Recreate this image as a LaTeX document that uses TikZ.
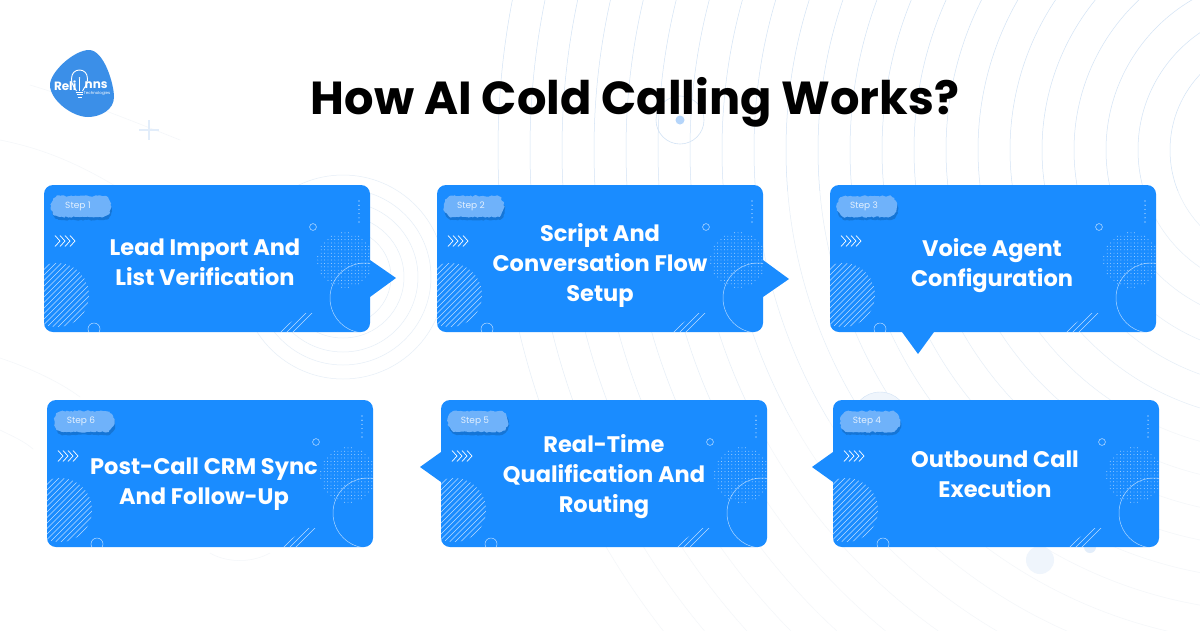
\documentclass[tikz,border=0pt]{standalone}
\usepackage{fontspec}
\setmainfont{Poppins}
\usetikzlibrary{decorations.pathmorphing,calc}
\definecolor{cardblue}{HTML}{1A8CFF}
\definecolor{blobblue}{HTML}{6FB2FA}
\definecolor{shadowblue}{HTML}{1470CC}
\definecolor{steptext}{HTML}{E3F0FE}
\definecolor{logoblue}{HTML}{3B8FE8}
\definecolor{arcA}{HTML}{D3E3F5}
\definecolor{arcB}{HTML}{E6EEF7}
\definecolor{arcC}{HTML}{F3F6F9}
\definecolor{paleA}{HTML}{EFF5FC}
\definecolor{paleB}{HTML}{E2EDFA}
\definecolor{dotblue}{HTML}{B5D5FA}
\tikzset{
  cardbox/.style={fill=cardblue,draw=none,rounded corners=9pt,inner sep=0pt,outer sep=0pt,minimum width=326pt,minimum height=147pt,anchor=north west},
  cardtext/.style={text=white,align=center,font=\fontsize{22.5}{30}\selectfont\bfseries,inner sep=0pt},
  steplabel/.style={text=steptext,font=\fontsize{9}{11}\selectfont,inner sep=0pt},
  deco/.style={draw=white,line width=.5pt},
  soft/.style={draw=white,draw opacity=.7,line width=.5pt},
  bgarc/.style={line width=.5pt}
}
\newcommand{\hatchdisc}[3]{% cx cy r
  \begin{scope}
    \clip (#1,#2) circle (#3pt);
    \foreach \k in {-49.5,-44,...,50}{
      \draw[soft] ({#1+\k-40},{#2+40}) -- ({#1+\k+40},{#2-40});
    }
  \end{scope}}
\newcommand{\stepcard}[8]{% name x y step text textx texty pointer
  \begin{scope}[shift={(#2,#3)}]
    \fill[cardblue] #8;
    \node[cardbox] (#1) at (0,0) {};
    \begin{scope}
      \clip[rounded corners=9pt] (0,0) rectangle (326,147);
      \hatchdisc{13}{110}{32}
      \begin{scope}
        \clip (233,147) -- (260,128) -- (269,128) -- (250,147) -- cycle;
        \foreach \k in {0,6,...,48}{
          \draw[soft] ({228+\k},150) -- ({228+\k+24},126);
        }
      \end{scope}
      \foreach \i in {-27.2,-23.8,...,27.3}{
        \foreach \j in {-27.2,-23.8,...,27.3}{
          \pgfmathparse{(\i*\i+\j*\j<=784)?1:0}
          \ifnum\pgfmathresult=1
            \fill[white,opacity=.75] ({301+\i},{75+\j}) circle (.45pt);
          \fi
        }
      }
      \draw[deco,draw opacity=.65] (321,113) circle (35pt);
      \draw[deco,draw opacity=.7] (50,144) circle (6pt);
    \end{scope}
    \draw[deco,draw opacity=.8] (269,42) circle (3.4pt);
    \foreach \k in {0,1,...,5}{
      \fill[white] (315,{16+4.2*\k}) circle (.55pt);
    }
    \foreach \k in {0,5,10,15}{
      \draw[deco,line width=.7pt] ({11+\k},50.5) -- ({16+\k},56) -- ({11+\k},61.5);
    }
    \fill[shadowblue,opacity=.8,decorate,decoration={random steps,segment length=2pt,amplitude=.6pt}]
      (17,15) -- (59,15) .. controls (71,15) and (71,35) .. (59,35) -- (17,35) .. controls (5,35) and (5,15) .. (17,15) -- cycle;
    \fill[blobblue,decorate,decoration={random steps,segment length=2pt,amplitude=.8pt}]
      (16,11) -- (58,11) .. controls (70,11) and (70,32) .. (58,32) -- (16,32) .. controls (4,32) and (4,11) .. (16,11) -- cycle;
    \node[steplabel] (#1step) at (34,21) {#4};
    \node[cardtext] (#1text) at (#6,#7) {#5};
  \end{scope}}
\begin{document}
\begin{tikzpicture}[x=1pt,y=-1pt]
\useasboundingbox (0,0) rectangle (1200,630);
\fill[white] (0,0) rectangle (1200,630);
% background arcs
\begin{scope}
  \clip (0,0) rectangle (1200,190);
  \foreach \r in {110,142,...,790}{\draw[arcA,bgarc] (1280,150) circle (\r pt);}
\end{scope}
\begin{scope}
  \clip (0,190) rectangle (1200,420);
  \foreach \r in {110,142,...,790}{\draw[arcB,bgarc] (1280,150) circle (\r pt);}
\end{scope}
\begin{scope}
  \clip (500,420) rectangle (1200,630);
  \foreach \r in {110,142,...,790}{\draw[arcC,bgarc] (1280,150) circle (\r pt);}
\end{scope}
\foreach \r in {48,61,75,88,102}{\draw[arcB,bgarc] (343,277) circle (\r pt);}
\draw[arcC,bgarc] (0,140) .. controls (50,150) and (100,170) .. (180,230);
\draw[arcC,bgarc] (30,85) .. controls (80,100) and (130,120) .. (180,140);
\draw[arcC,bgarc] (0,358) .. controls (30,368) and (60,382) .. (80,397);
\draw[arcC,bgarc] (0,430) .. controls (12,436) and (24,441) .. (33,449);
\draw[arcC,bgarc] (210,553) .. controls (225,562) and (250,564) .. (270,553);
% background ornaments
\draw[arcA,line width=.6pt] (680,120) circle (24pt);
\fill[dotblue] (680,120) circle (4.5pt);
\draw[paleB,line width=1.4pt] (139,130) -- (159,130) (149,120) -- (149,140);
\draw[arcA,fill=paleA] (880,420) circle (28pt);
\fill[paleA] (1040,560) circle (14pt);
\fill[paleB] (1090,547) circle (6pt);
% logo
\fill[logoblue] (89,50) .. controls (104,50) and (114,84) .. (114,97)
  .. controls (114,110) and (100,117) .. (88,117)
  .. controls (72,117) and (50,100) .. (50,85)
  .. controls (50,72) and (74,50) .. (89,50) -- cycle;
\draw[white,line width=.9pt] (76.5,91) .. controls (74,86) and (71.5,85) .. (71.5,79)
  .. controls (71.5,73) and (75,70) .. (79.5,70)
  .. controls (84,70) and (87.5,73) .. (87.5,79)
  .. controls (87.5,85) and (85,86) .. (82.5,91);
\draw[white,line width=.9pt] (76,92) -- (83,92) (76.5,94.5) -- (82.5,94.5) (77.5,97) -- (81.5,97);
\node[text=white,font=\fontsize{12}{13}\selectfont\bfseries,inner sep=0pt,anchor=east] (logoA) at (76.5,85.5) {Reli};
\node[text=white,font=\fontsize{12}{13}\selectfont\bfseries,inner sep=0pt,anchor=west] (logoB) at (84.5,85.5) {nns};
\fill[white] (79.5,78) circle (.9pt);
\draw[white,line width=.7pt] (79.5,79) -- (79.5,91);
\node[text=white,font=\fontsize{4}{5}\selectfont,inner sep=0pt] (logoC) at (97,93.5) {Technologies};
% title
\node[text=black,font=\fontsize{46.3}{50}\selectfont\bfseries,inner sep=0pt] (title) at (635,102) {How AI Cold Calling Works?};
% cards
\stepcard{cardone}{44}{185}{Step 1}{Lead Import And\\List Verification}{161}{77}{(326,75) -- (352,93) -- (326,112) -- cycle}
\stepcard{cardtwo}{437}{185}{Step 2}{Script And\\Conversation Flow\\Setup}{163}{80}{(326,75) -- (352,94) -- (326,112) -- cycle}
\stepcard{cardthree}{830}{185}{Step 3}{Voice Agent\\Configuration}{162}{81}{(72,147) -- (88,169) -- (104,147) -- cycle}
\stepcard{cardsix}{47}{400}{Step 6}{Post-Call CRM Sync\\And Follow-Up}{157}{84}{(0,0) -- (0,0)}
\stepcard{cardfive}{441}{400}{Step 5}{Real-Time\\Qualification And\\Routing}{163}{77}{(0,52) -- (-21,67) -- (0,82) -- cycle}
\stepcard{cardfour}{833}{400}{Step 4}{Outbound Call\\Execution}{162}{74}{(0,52) -- (-21,67) -- (0,82) -- cycle}
\end{tikzpicture}
\end{document}
